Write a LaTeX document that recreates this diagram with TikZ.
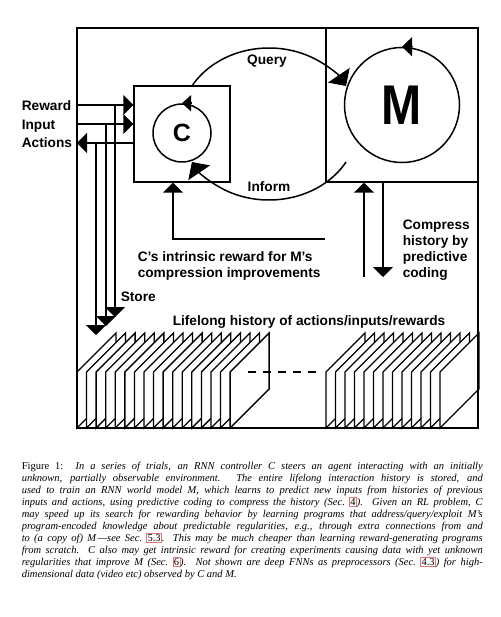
\documentclass[tikz,border=0pt]{standalone}
\usepackage{fontspec}
\setmainfont{Liberation Serif}
\setsansfont{Liberation Sans}
\usepackage{xcolor}
\usepackage{graphicx}
\usetikzlibrary{arrows.meta}

\definecolor{linkred}{RGB}{226,120,120}
\newcommand{\seclink}[1]{{\setlength{\fboxsep}{0.6pt}\setlength{\fboxrule}{0.5pt}\fcolorbox{linkred}{white}{\upshape #1}}}

\begin{document}
\begin{tikzpicture}[
  x=1pt, y=-1pt,
  line width=1.5pt,
  font=\sffamily\bfseries\fontsize{13.7}{15.7}\selectfont,
  box/.style={draw, inner sep=0pt},
  loopnode/.style={draw, circle, inner sep=0pt},
  lbl/.style={inner sep=0pt, anchor=base west},
  arr/.style={-{Triangle[length=10pt, width=20pt]}},
  bigarr/.style={-{Triangle[length=13pt, width=26pt]}},
  slab/.style={draw, fill=white, line width=1.3pt},
]
\useasboundingbox (0,0) rectangle (500,617);

% lifelong history, two stacks of slabs
\foreach \i in {0,...,16}
  \draw[slab] (77+9.57*\i, 428) -- ++(39,-39) -- ++(0,-56) -- ++(-39,39) -- cycle;
\foreach \i in {0,...,12}
  \draw[slab] (326+9.5*\i, 428) -- ++(39,-39) -- ++(0,-56) -- ++(-39,39) -- cycle;
\draw[dash pattern=on 8pt off 7pt] (248,372) -- (318,372);

% boxes and the two recurrent nets
\node[box, minimum width=401pt, minimum height=400pt] (env) at (277.5,228) {};
\node[box, minimum width=96pt, minimum height=96pt] (cbox) at (182,134) {};
\node[box, minimum width=152pt, minimum height=154pt] (mbox) at (402,105) {};
\node[loopnode, minimum size=58pt, font=\sffamily\bfseries\fontsize{25}{25}\selectfont] (cc) at (182,133) {C};
\node[loopnode, minimum size=115pt, font=\sffamily\bfseries\fontsize{56}{56}\selectfont] (mc) at (402,105) {\scalebox{0.86}[1]{M}};
\draw[-{Triangle[length=9pt, width=16pt]}] ([xshift=9pt]cc.north) -- (cc.north);
\draw[-{Triangle[length=10pt, width=19pt]}] ([xshift=10pt]mc.north) -- (mc.north);

% query / inform loop between C and M
\coordinate (qi) at (269,124);
\draw[bigarr] ([shift={(150:89pt and 76pt)}]qi) arc[start angle=150, end angle=30, x radius=89pt, y radius=76pt];
\draw[bigarr] ([shift={(-30:89pt and 76pt)}]qi) arc[start angle=-30, end angle=-150, x radius=89pt, y radius=76pt];

% reward, input, actions
\coordinate (rew) at (77,105);
\coordinate (inp) at (77,124);
\coordinate (act) at (77,143);
\draw[arr] (rew) -- (rew -| cbox.west);
\draw[arr] (inp) -- (inp -| cbox.west);
\draw[arr] (act -| cbox.west) -- (act);

% store
\coordinate (st1) at (115,317);
\coordinate (st2) at (106,326);
\coordinate (st3) at (96,335);
\draw[arr] (rew -| st1) -- (st1);
\draw[arr] (inp -| st2) -- (st2);
\draw[arr] (act -| st3) -- (st3);

% intrinsic reward back to C
\coordinate (rwend) at (325,239);
\draw[arr] (rwend) -| ([xshift=-9pt]cbox.south);

% history in and out of M
\coordinate (hist) at (364,277);
\coordinate (cmp) at (383,277);
\draw[arr] (hist) -- (hist |- mbox.south);
\draw[arr] (cmp |- mbox.south) -- (cmp);

% labels
\node[lbl] (lrew) at (21,111) {Reward};
\node[lbl] (linp) at (21,130) {Input};
\node[lbl] (lact) at (21,148) {Actions};
\node[lbl, anchor=base] (lq) at (267,65) {Query};
\node[lbl, anchor=base] (li) at (269,192) {Inform};
\node[lbl] (lst) at (120,301) {Store};
\node[lbl] (lhist) at (172,325) {Lifelong history of actions/inputs/rewards};
\node[lbl, align=left] (lrw) at (137,277) {C’s intrinsic reward for M’s\\compression improvements};
\node[lbl, align=left] (lcmp) at (402,277) {Compress\\history by\\predictive\\coding};

% caption
\node[anchor=north west, inner sep=0pt, text width=461pt, align=justify,
      font=\rmfamily\mdseries\fontsize{10.5}{12}\selectfont] (cap) at (21,461)
  {Figure 1:\hspace{2pt} \itshape In a series of trials, an RNN controller C steers an agent interacting with an initially\linebreak
   unknown, partially observable environment. The entire lifelong interaction history is stored, and\linebreak
   used to train an RNN world model M, which learns to predict new inputs from histories of previous\linebreak
   inputs and actions, using predictive coding to compress the history (Sec.~\seclink{4}). Given an RL problem, C\linebreak
   may speed up its search for rewarding behavior by learning programs that address/query/exploit M’s\linebreak
   program-encoded knowledge about predictable regularities, e.g., through extra connections from and\linebreak
   to (a copy of) M\,—see Sec.~\seclink{5.3}. This may be much cheaper than learning reward-generating programs\linebreak
   from scratch. C also may get intrinsic reward for creating experiments causing data with yet unknown\linebreak
   regularities that improve M (Sec.~\seclink{6}). Not shown are deep FNNs as preprocessors (Sec.~\seclink{4.3}) for high-\linebreak
   dimensional data (video etc) observed by C and M.};
\end{tikzpicture}
\end{document}
